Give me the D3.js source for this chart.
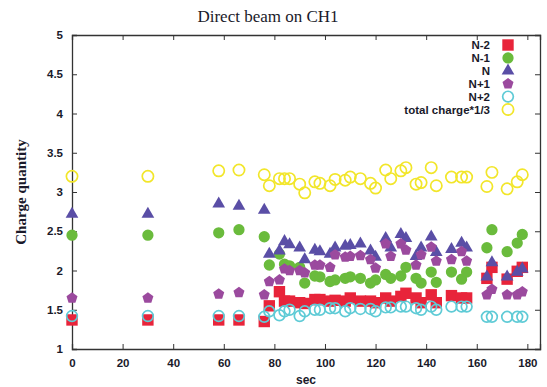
<!DOCTYPE html>
<html>
<head>
<meta charset="utf-8">
<script src="https://cdn.jsdelivr.net/npm/d3@7"></script>
<style>
  body { margin: 0; background: #fff; }
  svg { display: block; }
</style>
</head>
<body>
<div id="chart"></div>
<script>
// time in seconds
const sec = [0, 30, 58, 66, 76, 78, 82, 84, 86, 90, 92, 96, 98, 102, 104, 108, 110, 114, 118, 120, 124, 126,
  130, 132, 136, 138, 142, 144, 150, 154, 156, 164, 166, 172, 176, 178]

const nMinus2 = [1.37, 1.37, 1.37, 1.37, 1.35, 1.55, 1.73, 1.61, 1.61, 1.59, 1.58, 1.63, 1.63, 1.61, 1.62,
  1.61, 1.65, 1.61, 1.61, 1.59, 1.65, 1.61, 1.67, 1.71, 1.65, 1.59, 1.69, 1.59, 1.68, 1.65, 1.65,
  1.90, 2.04, 1.89, 1.99, 2.04]
const nMinus1 = [2.45, 2.45, 2.48, 2.52, 2.43, 2.07, 2.21, 2.08, 2.06, 2.04, 1.84, 1.93, 1.92, 1.86, 1.88,
  1.90, 1.92, 1.90, 1.84, 1.88, 1.95, 1.90, 1.93, 2.04, 1.90, 1.84, 1.98, 1.85, 1.98, 1.89, 1.98,
  2.29, 2.52, 2.24, 2.35, 2.46]
const nMain = [2.72, 2.72, 2.85, 2.82, 2.77, 2.21, 2.25, 2.37, 2.33, 2.29, 2.14, 2.26, 2.24, 2.21, 2.29,
  2.31, 2.32, 2.34, 2.25, 2.17, 2.41, 2.29, 2.46, 2.41, 2.18, 2.29, 2.43, 2.23, 2.27, 2.35, 2.29,
  1.92, 2.10, 1.92, 1.98, 2.02]
const nPlus1 = [1.65, 1.65, 1.70, 1.72, 1.69, 1.86, 1.88, 2.02, 2.00, 2.00, 1.97, 2.07, 2.07, 2.04, 2.20,
  2.17, 2.18, 2.19, 2.14, 2.03, 2.34, 2.18, 2.34, 2.26, 2.07, 2.20, 2.30, 2.12, 2.14, 2.24, 2.12,
  1.69, 1.76, 1.69, 1.69, 1.73]
const nPlus2 = [1.42, 1.42, 1.42, 1.42, 1.41, 1.48, 1.43, 1.48, 1.50, 1.42, 1.48, 1.50, 1.50, 1.52, 1.52,
  1.48, 1.52, 1.51, 1.51, 1.48, 1.53, 1.53, 1.54, 1.54, 1.52, 1.50, 1.54, 1.50, 1.54, 1.54, 1.54,
  1.41, 1.41, 1.41, 1.41, 1.41]
const totalThird = [3.20, 3.20, 3.27, 3.28, 3.22, 3.08, 3.17, 3.17, 3.17, 3.10, 2.99, 3.13, 3.11, 3.08, 3.16,
  3.15, 3.19, 3.17, 3.11, 3.05, 3.28, 3.17, 3.27, 3.31, 3.10, 3.12, 3.31, 3.08, 3.19, 3.19, 3.19,
  3.07, 3.25, 3.04, 3.13, 3.22]

const seriesNames = ['N-2', 'N-1', 'N', 'N+1', 'N+2', 'total charge*1/3']
const seriesValues = [nMinus2, nMinus1, nMain, nPlus1, nPlus2, totalThird]
const xTicks = [0, 20, 40, 60, 80, 100, 120, 140, 160, 180]
const yTicks = [1, 1.5, 2, 2.5, 3, 3.5, 4, 4.5, 5]

const W = 547, H = 387
const m = {left: 72, right: 7, top: 35, bottom: 38}

// gnuplot-ish point styles
const pentagon = {
  draw(ctx, size) {
    const r = Math.sqrt(size / 2.38)
    for (let i = 0; i < 5; i++) {
      const a = -Math.PI / 2 + i * 2 * Math.PI / 5
      if (i == 0) ctx.moveTo(r * Math.cos(a), r * Math.sin(a))
      else ctx.lineTo(r * Math.cos(a), r * Math.sin(a))
    }
    ctx.closePath()
  }
}
const styles = [
  {type: d3.symbolSquare, size: 130, fill: '#e8243a', stroke: 'none'},
  {type: d3.symbolCircle, size: 100, fill: '#6abb3c', stroke: 'none'},
  {type: d3.symbolTriangle, size: 70, fill: '#5a4ea6', stroke: 'none'},
  {type: pentagon, size: 80, fill: '#9b4a9e', stroke: 'none'},
  {type: d3.symbolCircle, size: 90, fill: 'none', stroke: '#5fcbd6'},
  {type: d3.symbolCircle, size: 100, fill: 'none', stroke: '#f2e62a'}
]

const svg = d3.select('#chart').append('svg')
  .attr('width', W).attr('height', H)

const x = d3.scaleLinear().domain([0, 185]).range([m.left, W - m.right])
const y = d3.scaleLinear().domain([1, 5]).range([H - m.bottom, m.top])

const axisColor = '#333'
const tickFont = '"Liberation Sans", Arial, sans-serif'

// axes with inward ticks, mirrored on top and right
const gx = svg.append('g').attr('transform', `translate(0,${y(1)})`)
  .call(d3.axisBottom(x).tickValues(xTicks).tickSize(-5).tickPadding(10).tickFormat(d3.format('d')))
const gxt = svg.append('g').attr('transform', `translate(0,${y(5)})`)
  .call(d3.axisTop(x).tickValues(xTicks).tickSize(-5).tickFormat(''))
const gy = svg.append('g').attr('transform', `translate(${x(0)},0)`)
  .call(d3.axisLeft(y).tickValues(yTicks).tickSize(-5).tickPadding(9).tickFormat(d => d))
const gyr = svg.append('g').attr('transform', `translate(${W - m.right},0)`)
  .call(d3.axisRight(y).tickValues(yTicks).tickSize(-5).tickFormat(''))

;[gx, gxt, gy, gyr].forEach(g => {
  g.select('.domain').attr('stroke', axisColor).attr('stroke-width', 1.3)
  g.selectAll('.tick line').attr('stroke', axisColor).attr('stroke-width', 1)
  g.selectAll('.tick text').attr('fill', '#1a1a2a')
    .style('font-family', tickFont).style('font-size', '11.5px').style('font-weight', 'bold')
})

// points
seriesValues.forEach((vals, i) => {
  const st = styles[i]
  const sym = d3.symbol().type(st.type).size(st.size)
  svg.append('g')
    .selectAll('path')
    .data(sec.map((t, j) => ({t: t, v: vals[j]})))
    .enter().append('path')
    .attr('d', sym)
    .attr('transform', d => `translate(${x(d.t)},${y(d.v)})`)
    .attr('fill', st.fill)
    .attr('stroke', st.stroke)
    .attr('stroke-width', st.stroke == 'none' ? 0 : 1.7)
})

// legend
const legend = svg.append('g')
seriesNames.forEach((name, i) => {
  const st = styles[i]
  const ly = 45 + i * 12.9
  legend.append('text')
    .attr('x', 490).attr('y', ly + 4)
    .attr('text-anchor', 'end')
    .attr('fill', '#1a1a2a')
    .style('font-family', tickFont).style('font-size', '11.5px').style('font-weight', 'bold')
    .text(name)
  legend.append('path')
    .attr('d', d3.symbol().type(st.type).size(st.size)())
    .attr('transform', `translate(508,${ly})`)
    .attr('fill', st.fill)
    .attr('stroke', st.stroke)
    .attr('stroke-width', st.stroke == 'none' ? 0 : 1.7)
})

// titles
svg.append('text')
  .attr('x', 268).attr('y', 22)
  .attr('text-anchor', 'middle')
  .attr('fill', '#1a1a2a')
  .style('font-family', '"Liberation Serif", "Times New Roman", serif')
  .style('font-size', '17px')
  .text('Direct beam on CH1')

svg.append('text')
  .attr('transform', `translate(26,${(y(1) + y(5)) / 2}) rotate(-90)`)
  .attr('text-anchor', 'middle')
  .attr('fill', '#1a1a2a')
  .style('font-family', '"Liberation Serif", "Times New Roman", serif')
  .style('font-size', '15px').style('font-weight', 'bold')
  .text('Charge quantity')

svg.append('text')
  .attr('x', (x(0) + x(185)) / 2).attr('y', 384)
  .attr('text-anchor', 'middle')
  .attr('fill', '#1a1a2a')
  .style('font-family', tickFont)
  .style('font-size', '12px').style('font-weight', 'bold')
  .text('sec')
</script>
</body>
</html>
